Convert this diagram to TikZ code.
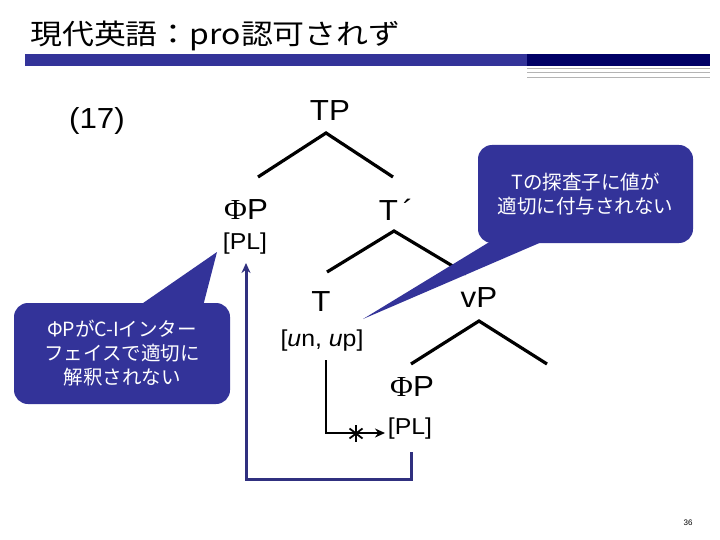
\documentclass[tikz,border=0pt]{standalone}
\usepackage{fontspec}
\setmainfont{Liberation Sans}
\newfontfamily\jp{Noto Sans CJK JP}
\newfontfamily\jpt{Noto Sans CJK JP}[FakeStretch=1.14]
\newfontfamily\labfont{Liberation Sans}[FakeStretch=1.08]
\newfontfamily\serifphi{Liberation Serif}[FakeStretch=1.08]
\usetikzlibrary{arrows.meta}
\definecolor{barblue}{HTML}{333399}
\definecolor{navy}{HTML}{000066}
\definecolor{callblue}{HTML}{333399}
\definecolor{brblue}{HTML}{30307F}
\definecolor{grayline}{HTML}{B4B4B4}
\tikzset{
 lab/.style={font=\labfont\fontsize{29}{29}\selectfont, inner sep=0pt},
 feat/.style={font=\labfont\fontsize{23}{23}\selectfont, inner sep=0pt},
 branch/.style={line width=3.2pt, black},
 callbox/.style={fill=callblue, rounded corners=14pt, text=white, align=center, inner sep=0pt, font=\jp\fontsize{19.5}{24}\selectfont},
 link/.style={line width=2.8pt, black, -{Stealth[length=10pt,width=9pt]}},
 bracket/.style={line width=3pt, brblue, -{Stealth[length=10pt,width=9pt]}},
 starmark/.style={line width=1.8pt, black},
}
\begin{document}
\begin{tikzpicture}[x=1pt,y=-1pt]
\useasboundingbox (0,0) rectangle (720,540);
\fill[white] (0,0) rectangle (720,540);
% header
\node[anchor=west, font=\jpt\fontsize{28}{28}\selectfont, inner sep=0pt] (title) at (30,36) {現代英語：pro認可されず};
\fill[barblue] (25,54) rectangle (527,66);
\fill[navy] (527,54) rectangle (710,66);
\foreach \y in {68.5,72.5,77} \draw[grayline, line width=0.7pt] (527,\y) -- (710,\y);
% tree labels
\node[lab] (ex) at (97,121) {(17)};
\node[lab] (TP) at (330,111) {TP};
\node[lab] (PhiP1) at (246,210) {{\serifphi Φ}P};
\node[feat] (PL1) at (245,244) {[PL]};
\node[lab] (Tbar) at (396,210) {T\,´};
\node[lab] (T) at (321,302) {T};
\node[feat] (Tfeat) at (322,341) {[\textit{u}n, \textit{u}p]};
\node[lab] (vP) at (479,298) {vP};
\node[lab] (PhiP2) at (412,387) {{\serifphi Φ}P};
\node[feat] (PL2) at (410,429) {[PL]};
% branch points
\coordinate (tpA) at (326,133);
\coordinate (tpL) at (258,177);
\coordinate (tpR) at (393,177);
\coordinate (tbA) at (394,231);
\coordinate (tbL) at (327,272);
\coordinate (tbR) at (466,274);
\coordinate (vpA) at (479,321);
\coordinate (vpL) at (411,364);
\coordinate (vpR) at (547,364);
\draw[branch] (tpL) -- (tpA) -- (tpR);
\draw[branch] (tbL) -- (tbA) -- (tbR);
\draw[branch] (vpL) -- (vpA) -- (vpR);
% agree arrow
\coordinate (Ls) at (326,360);
\coordinate (Lc) at (326,433);
\coordinate (Le) at (385,433);
\draw[link] (Ls) -- (Lc) -- (Le);
\coordinate (star) at (356,433.5);
\draw[starmark] ([yshift=8.5pt]star) -- ([yshift=-8.5pt]star);
\draw[starmark] ([shift={(-6.5pt,5pt)}]star) -- ([shift={(6.5pt,-5pt)}]star);
\draw[starmark] ([shift={(6.5pt,5pt)}]star) -- ([shift={(-6.5pt,-5pt)}]star);
% blue bracket
\coordinate (b1) at (411,452);
\coordinate (b2) at (411,479);
\coordinate (b3) at (246,479);
\coordinate (b4) at (246,263);
\draw[bracket] (b1) -- (b2) -- (b3) -- (b4);
% callouts
\node[callbox, minimum width=216pt, minimum height=101pt] (c1) at (122,353.5) {ΦPがC-Iインター\\フェイスで適切に\\解釈されない};
\coordinate (c1tip) at (217,252);
\fill[callblue] (133,310) -- (c1tip) -- (202,310) -- cycle;
\node[callbox, minimum width=215pt, minimum height=98pt] (c2) at (585.5,194) {Tの探査子に値が\\適切に付与されない};
\coordinate (c2tip) at (363,319);
\fill[callblue] (c2tip) -- (496,238) -- (551,238) -- cycle;
% slide number
\node[font=\fontsize{8}{8}\selectfont, inner sep=0pt] (num) at (688,523) {36};
\end{tikzpicture}
\end{document}
